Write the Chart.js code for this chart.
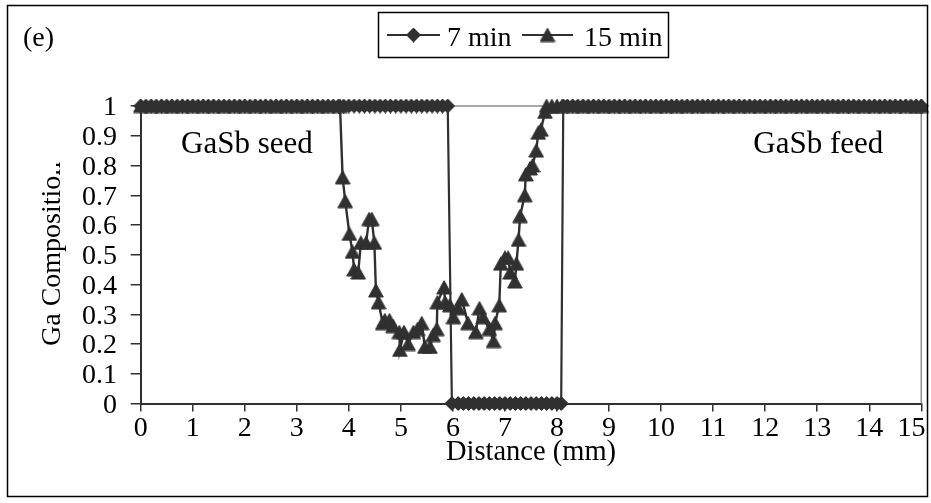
<!DOCTYPE html>
<html>
<head>
<meta charset="utf-8">
<script src="https://cdn.jsdelivr.net/npm/chart.js@4.4.0/dist/chart.umd.min.js"></script>
<style>
  html, body { margin: 0; padding: 0; background: #fff; }
  canvas { display: block; }
</style>
</head>
<body>
<canvas id="chart" width="931" height="503"></canvas>
<script>
// distances in mm, Ga composition
const dist7 = [
  0, 0.1, 0.2, 0.3, 0.4, 0.5, 0.6, 0.7, 0.8, 0.9,
  1, 1.1, 1.2, 1.3, 1.4, 1.5, 1.6, 1.7, 1.8, 1.9,
  2, 2.1, 2.2, 2.3, 2.4, 2.5, 2.6, 2.7, 2.8, 2.9,
  3, 3.1, 3.2, 3.3, 3.4, 3.5, 3.6, 3.7, 3.8, 3.9,
  4, 4.1, 4.2, 4.3, 4.4, 4.5, 4.6, 4.7, 4.8, 4.9,
  5, 5.1, 5.2, 5.3, 5.4, 5.5, 5.6, 5.7, 5.8, 5.9,
  5.98, 6.1, 6.2, 6.3, 6.4, 6.5, 6.6, 6.7, 6.8, 6.9, 7, 7.1,
  7.2, 7.3, 7.4, 7.5, 7.6, 7.7, 7.8, 7.9, 8, 8.08,
  8.12, 8.2, 8.3, 8.4, 8.5, 8.6, 8.7, 8.8, 8.9, 9,
  9.1, 9.2, 9.3, 9.4, 9.5, 9.6, 9.7, 9.8, 9.9, 10,
  10.1, 10.2, 10.3, 10.4, 10.5, 10.6, 10.7, 10.8, 10.9, 11,
  11.1, 11.2, 11.3, 11.4, 11.5, 11.6, 11.7, 11.8, 11.9, 12,
  12.1, 12.2, 12.3, 12.4, 12.5, 12.6, 12.7, 12.8, 12.9, 13,
  13.1, 13.2, 13.3, 13.4, 13.5, 13.6, 13.7, 13.8, 13.9, 14,
  14.1, 14.2, 14.3, 14.4, 14.5, 14.6, 14.7, 14.8, 14.9, 15
];
const comp7 = [
  1, 1, 1, 1, 1, 1, 1, 1, 1, 1,
  1, 1, 1, 1, 1, 1, 1, 1, 1, 1,
  1, 1, 1, 1, 1, 1, 1, 1, 1, 1,
  1, 1, 1, 1, 1, 1, 1, 1, 1, 1,
  1, 1, 1, 1, 1, 1, 1, 1, 1, 1,
  1, 1, 1, 1, 1, 1, 1, 1, 1, 1,
  0, 0, 0, 0, 0, 0, 0, 0, 0, 0, 0, 0,
  0, 0, 0, 0, 0, 0, 0, 0, 0, 0,
  1, 1, 1, 1, 1, 1, 1, 1, 1, 1,
  1, 1, 1, 1, 1, 1, 1, 1, 1, 1,
  1, 1, 1, 1, 1, 1, 1, 1, 1, 1,
  1, 1, 1, 1, 1, 1, 1, 1, 1, 1,
  1, 1, 1, 1, 1, 1, 1, 1, 1, 1,
  1, 1, 1, 1, 1, 1, 1, 1, 1, 1,
  1, 1, 1, 1, 1, 1, 1, 1, 1, 1
];

const dist15 = [
  0, 0.2, 0.4, 0.6, 0.8, 1, 1.2, 1.4, 1.6, 1.8,
  2, 2.2, 2.4, 2.6, 2.8, 3, 3.2, 3.4, 3.6, 3.83,
  3.88, 3.93, 4.01, 4.07, 4.10, 4.18, 4.23, 4.33, 4.39, 4.44,
  4.49, 4.52, 4.57, 4.65, 4.69, 4.78, 4.85, 4.97, 4.98, 5.06,
  5.14, 5.24, 5.32, 5.40, 5.46, 5.56, 5.62, 5.69, 5.70, 5.83,
  5.85, 5.94, 6.01, 6.10, 6.17, 6.29, 6.44, 6.51, 6.58, 6.70,
  6.78, 6.81, 6.89, 6.92, 7.00, 7.06, 7.10, 7.19, 7.22, 7.26,
  7.29, 7.38, 7.40, 7.48, 7.53, 7.60, 7.64, 7.69, 7.77, 7.80,
  7.9, 8, 8.1, 8.3, 8.5, 8.7, 8.9, 9.1, 9.3, 9.5,
  9.7, 9.9, 10.1, 10.3, 10.5, 10.7, 10.9, 11.1, 11.3, 11.5,
  11.7, 11.9, 12.1, 12.3, 12.5, 12.7, 12.9, 13.1, 13.3, 13.5,
  13.7, 13.9, 14.1, 14.3, 14.5, 14.7, 14.9, 15
];
const comp15 = [
  1, 1, 1, 1, 1, 1, 1, 1, 1, 1,
  1, 1, 1, 1, 1, 1, 1, 1, 1, 1,
  0.76, 0.68, 0.57, 0.51, 0.45, 0.44, 0.54, 0.54, 0.62, 0.62,
  0.54, 0.38, 0.34, 0.27, 0.28, 0.28, 0.26, 0.24, 0.18, 0.24,
  0.20, 0.24, 0.25, 0.27, 0.19, 0.19, 0.23, 0.25, 0.34, 0.39,
  0.34, 0.33, 0.29, 0.32, 0.35, 0.27, 0.24, 0.32, 0.29, 0.25,
  0.21, 0.27, 0.33, 0.47, 0.49, 0.49, 0.44, 0.41, 0.47, 0.55,
  0.63, 0.70, 0.77, 0.79, 0.80, 0.85, 0.91, 0.92, 0.98, 1.00,
  1, 1, 1, 1, 1, 1, 1, 1, 1, 1,
  1, 1, 1, 1, 1, 1, 1, 1, 1, 1,
  1, 1, 1, 1, 1, 1, 1, 1, 1, 1,
  1, 1, 1, 1, 1, 1, 1, 1
];

const seriesNames = ['7 min', '15 min'];
const xTitle = 'Distance (mm)';
const yTitle = 'Ga Composition';
const panelLabel = '(e)';
const regionLabels = ['GaSb seed', 'GaSb feed'];
const yTicks = [0, 0.1, 0.2, 0.3, 0.4, 0.5, 0.6, 0.7, 0.8, 0.9, 1];

const FONT = '"Liberation Serif", "Times New Roman", serif';
const DARK = '#303030';

function toPoints(xs, ys) {
  return xs.map((x, i) => ({ x: x, y: ys[i] }));
}

// Excel-like markers drawn once on small canvases
function makeMarker(shape) {
  const c = document.createElement('canvas');
  const g = c.getContext('2d');
  g.fillStyle = DARK;
  g.strokeStyle = DARK;
  g.lineWidth = 1;
  g.lineJoin = 'round';
  if (shape === 'diamond') {
    c.width = 15; c.height = 15;
    g.fillStyle = DARK; g.strokeStyle = DARK; g.lineWidth = 1;
    g.beginPath();
    g.moveTo(7.5, 0.5); g.lineTo(14.5, 7.5); g.lineTo(7.5, 14.5); g.lineTo(0.5, 7.5);
  } else {
    c.width = 16; c.height = 15;
    g.fillStyle = DARK; g.strokeStyle = DARK; g.lineWidth = 1;
    g.beginPath();
    g.moveTo(8, 0.7); g.lineTo(15.3, 14); g.lineTo(0.7, 14);
  }
  g.closePath();
  g.fill();
  g.stroke();
  return c;
}
const diamond = makeMarker('diamond');
const triangle = makeMarker('triangle');

const decor = {
  id: 'decor',
  beforeDatasetsDraw(chart) {
    const ctx = chart.ctx;
    const a = chart.chartArea;
    ctx.save();
    ctx.strokeStyle = '#8c8c8c';
    ctx.lineWidth = 1.5;
    ctx.beginPath();
    ctx.moveTo(a.left, a.top);
    ctx.lineTo(a.right, a.top);
    ctx.lineTo(a.right, a.bottom);
    ctx.stroke();
    ctx.restore();
  },
  afterDraw(chart) {
    const ctx = chart.ctx;
    const xs = chart.scales.x;
    const ys = chart.scales.y;
    ctx.save();

    // outer frame
    ctx.strokeStyle = '#000';
    ctx.lineWidth = 1.5;
    ctx.strokeRect(7.5, 5.5, 920, 491);

    ctx.fillStyle = '#000';
    ctx.font = '28px ' + FONT;
    ctx.textBaseline = 'alphabetic';
    ctx.textAlign = 'left';
    ctx.fillText(panelLabel, 23, 46);

    // legend
    ctx.strokeRect(378.5, 12.5, 290, 45);
    const items = [
      { x0: 387, x1: 440, tx: 447, img: diamond },
      { x0: 522, x1: 573, tx: 584, img: triangle }
    ];
    items.forEach((it, i) => {
      ctx.strokeStyle = DARK;
      ctx.lineWidth = 2.2;
      ctx.beginPath();
      ctx.moveTo(it.x0, 35);
      ctx.lineTo(it.x1, 35);
      ctx.stroke();
      const cx = (it.x0 + it.x1) / 2;
      ctx.drawImage(it.img, cx - it.img.width / 2, 35 - it.img.height / 2);
      ctx.fillStyle = '#000';
      ctx.fillText(seriesNames[i], it.tx, 46);
    });

    // region labels
    ctx.font = '31px ' + FONT;
    ctx.textAlign = 'center';
    ctx.fillText(regionLabels[0], xs.getPixelForValue(2.04), ys.getPixelForValue(0.842));
    ctx.fillText(regionLabels[1], xs.getPixelForValue(13.02), ys.getPixelForValue(0.842));

    // y axis title, the last letter is cut off like in the original
    ctx.font = '28px ' + FONT;
    ctx.translate(60, 346);
    ctx.rotate(-Math.PI / 2);
    ctx.textAlign = 'left';
    const head = yTitle.slice(0, -1);
    ctx.fillText(head, 0, 0);
    const w = ctx.measureText(head).width;
    ctx.beginPath();
    ctx.rect(w, -4, 20, 10);
    ctx.clip();
    ctx.fillText(yTitle.slice(-1), w, 0);
    ctx.restore();
  }
};

const ctx = document.getElementById('chart').getContext('2d');
new Chart(ctx, {
  type: 'scatter',
  data: {
    datasets: [
      {
        label: seriesNames[0],
        data: toPoints(dist7, comp7),
        showLine: true,
        borderColor: DARK,
        borderWidth: 2.2,
        pointStyle: diamond,
        clip: false
      },
      {
        label: seriesNames[1],
        data: toPoints(dist15, comp15),
        showLine: true,
        borderColor: DARK,
        borderWidth: 2.4,
        pointStyle: triangle,
        clip: false
      }
    ]
  },
  options: {
    responsive: false,
    animation: false,
    layout: { padding: { left: 40.7, top: 106, right: 9.7, bottom: 0 } },
    plugins: {
      legend: { display: false },
      tooltip: { enabled: false }
    },
    scales: {
      x: {
        type: 'linear',
        min: 0,
        max: 15,
        afterFit: (scale) => { scale.height = 99.5; scale.paddingRight = 0; scale.paddingLeft = 0; },
        ticks: {
          stepSize: 1,
          autoSkip: false,
          color: '#000',
          padding: 3,
          maxRotation: 0,
          font: { family: FONT, size: 28, lineHeight: 1 },
          callback: (v) => (v === 15 ? '15\u2002\u2009' : String(v))
        },
        grid: { drawOnChartArea: false, tickLength: 8, color: DARK, lineWidth: 1.5 },
        border: { color: DARK, width: 2 },
        title: {
          display: true,
          text: xTitle,
          color: '#000',
          font: { family: FONT, size: 28.5, lineHeight: 1 },
          padding: { top: 0, bottom: 36 }
        }
      },
      y: {
        min: 0,
        max: 1,
        afterFit: (scale) => { scale.width = 100; },
        afterBuildTicks: (scale) => { scale.ticks = yTicks.map(v => ({ value: v })); },
        ticks: {
          autoSkip: false,
          color: '#000',
          padding: 13.7,
          labelOffset: 2,
          font: { family: FONT, size: 28, lineHeight: 1 },
          callback: (v) => String(v)
        },
        grid: { drawOnChartArea: false, tickLength: 10, color: DARK, lineWidth: 1.5 },
        border: { color: DARK, width: 2 }
      }
    }
  },
  plugins: [decor]
});
</script>
</body>
</html>
